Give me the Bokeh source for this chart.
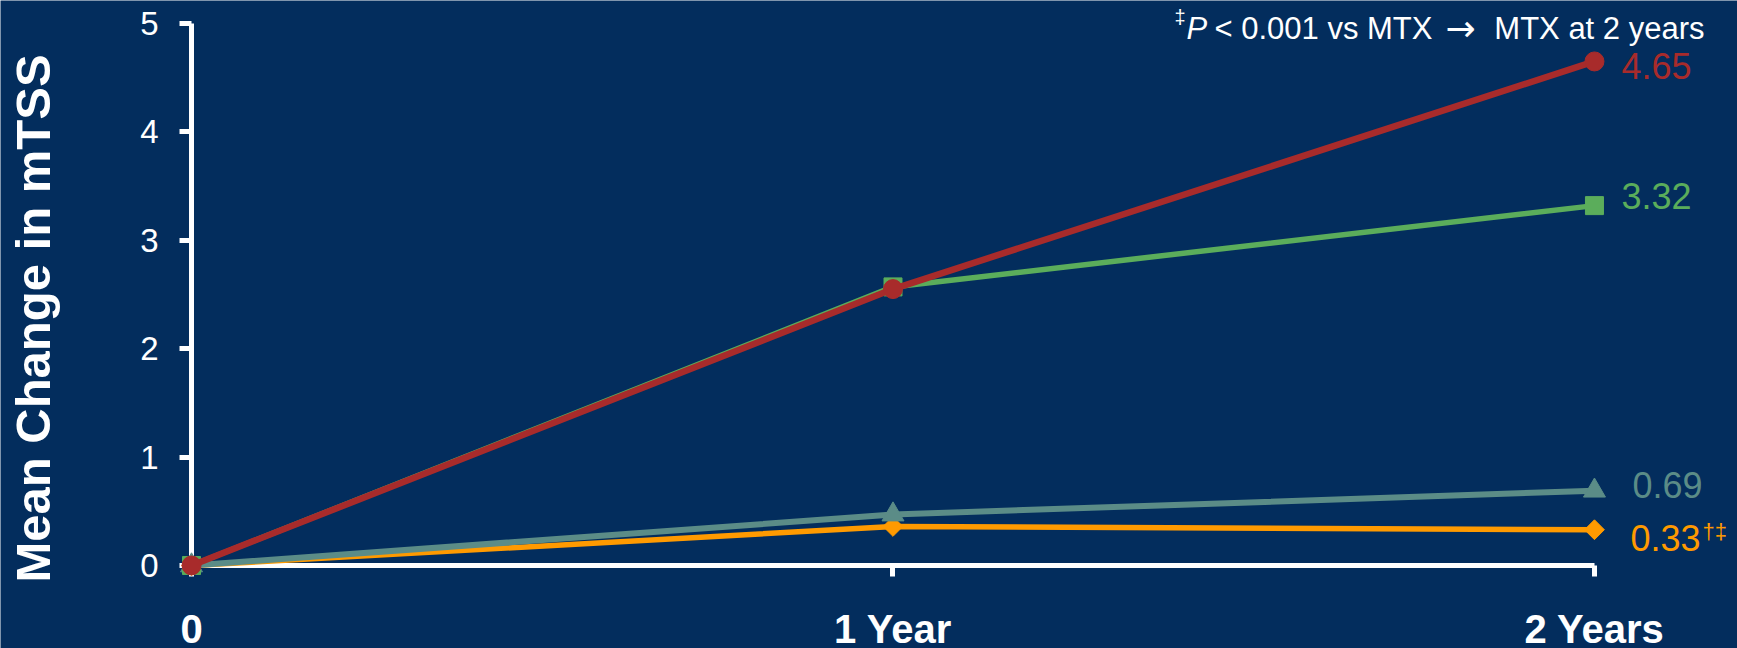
from math import pi

from bokeh.plotting import figure
from bokeh.models import Range1d, LinearAxis, FixedTicker, Label, ColumnDataSource
from bokeh.embed import file_html
from bokeh.resources import INLINE
from bokeh.core.properties import value

# ---- data -------------------------------------------------------------
years = [0, 1, 2]
x_tick_labels = ["0", "1 Year", "2 Years"]
y_ticks = [0, 1, 2, 3, 4, 5]

red_vals = [0.0, 2.55, 4.65]
green_vals = [0.0, 2.57, 3.32]
teal_vals = [0.0, 0.47, 0.69]
orange_vals = [0.0, 0.36, 0.33]

orange_mark = "†‡"
footnote_mark = "‡"
footnote_p = "P"
footnote_left = "< 0.001 vs MTX"
footnote_arrow = "→"
footnote_right = "MTX at 2 years"
y_title = "Mean Change in mTSS"

# ---- styling ----------------------------------------------------------
W, H = 1737, 648
BG = "#032D5D"
FONT = "Liberation Sans"
RED, GREEN, TEAL, ORANGE = "#A82B2B", "#5BAD5B", "#5B8C87", "#FF9A00"

p = figure(width=W, height=H, output_backend="svg", toolbar_location=None,
           x_axis_location=None, y_axis_location=None, title=None,
           x_range=Range1d(-0.2723, 2.2039), y_range=Range1d(-0.7657, 5.2122),
           min_border=0, min_border_left=0, min_border_right=0,
           min_border_top=0, min_border_bottom=0)
p.background_fill_color = BG
p.border_fill_color = BG
p.outline_line_color = None
p.xgrid.visible = False
p.ygrid.visible = False

# axes pinned at the data origin
yax = LinearAxis(fixed_location=0, ticker=FixedTicker(ticks=y_ticks), bounds=(0, 5))
yax.axis_line_color = "white"
yax.axis_line_width = 5
yax.major_tick_line_color = "white"
yax.major_tick_line_width = 5
yax.major_tick_out = 12
yax.major_tick_in = 0
yax.minor_tick_line_color = None
yax.major_label_text_color = "white"
yax.major_label_text_font = FONT
yax.major_label_text_font_size = "33px"
yax.major_label_standoff = 21
p.add_layout(yax, "left")

xax = LinearAxis(fixed_location=0, ticker=FixedTicker(ticks=years), bounds=(0, 2))
xax.major_label_overrides = {t: lab for t, lab in zip(years, x_tick_labels)}
xax.axis_line_color = "white"
xax.axis_line_width = 5
xax.major_tick_line_color = "white"
xax.major_tick_line_width = 5
xax.major_tick_out = 11
xax.major_tick_in = 0
xax.minor_tick_line_color = None
xax.major_label_text_color = "white"
xax.major_label_text_font = FONT
xax.major_label_text_font_style = "bold"
xax.major_label_text_font_size = "40px"
xax.major_label_standoff = 31
p.add_layout(xax, "below")

# ---- series (drawn above the axes) -------------------------------------
series = [
    (orange_vals, ORANGE, 5.5, "square", 14, pi / 4),
    (teal_vals, TEAL, 6, "triangle", 22, 0),
    (green_vals, GREEN, 5.5, "square", 18, 0),
    (red_vals, RED, 6.5, "circle", 19, 0),
]
for vals, color, lw, marker, size, ang in series:
    p.line(years, vals, line_color=color, line_width=lw, level="overlay")
    p.scatter(years, vals, marker=marker, size=size, angle=ang,
              fill_color=color, line_color=color, level="overlay")

# end-point value labels
end_src = ColumnDataSource(dict(
    x=[years[-1]] * 4,
    y=[red_vals[-1], green_vals[-1], teal_vals[-1], orange_vals[-1]],
    text=[f"{v:.2f}" for v in (red_vals[-1], green_vals[-1], teal_vals[-1], orange_vals[-1])],
    color=[RED, GREEN, TEAL, ORANGE],
    dx=[27, 27, 38, 36],
    dy=[5, -10, -5.5, 8],
))
p.text(x="x", y="y", text="text", source=end_src, x_offset="dx", y_offset="dy",
       text_color="color", text_font=value(FONT), text_font_size="36px",
       text_align="left", text_baseline="middle")

p.text(x=[years[-1]], y=[orange_vals[-1]], text=[orange_mark], x_offset=108, y_offset=2,
       text_color=ORANGE, text_font=value(FONT), text_font_size="22px",
       text_align="left", text_baseline="middle")

# footnote in the top-right corner
def note(x, y, text, size="31px", style="normal", font=FONT, align="left"):
    p.add_layout(Label(x=x, y=H - y, x_units="screen", y_units="screen",
                       text=text, text_color="white", text_font=font,
                       text_font_style=style, text_font_size=size,
                       text_align=align, text_baseline="alphabetic"))

note(1174, 16, footnote_mark, size="20px")
note(1186, 28, footnote_p, style="italic")
note(1214, 28, footnote_left)
note(1445, 28, footnote_arrow, size="36px", font="DejaVu Sans")
note(1704, 28, footnote_right, align="right")

# rotated y-axis title
p.add_layout(Label(x=32, y=H - 318, x_units="screen", y_units="screen",
                   angle=pi / 2, text=y_title, text_color="white", text_font=FONT,
                   text_font_style="bold", text_font_size="49px",
                   text_align="center", text_baseline="alphabetic"))

open("out.html", "w").write(file_html(p, INLINE))
